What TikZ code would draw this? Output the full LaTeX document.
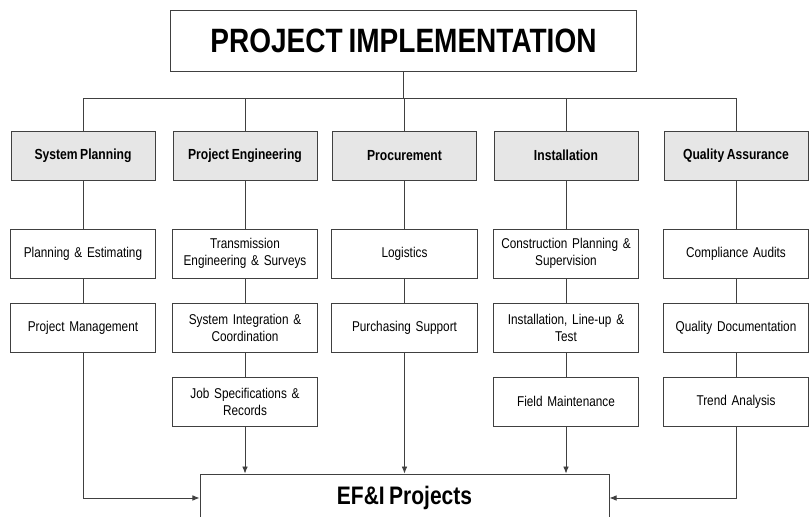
\documentclass[tikz,border=0pt]{standalone}
\usepackage{fontspec}
\setmainfont{Liberation Sans}[FakeStretch=0.83,WordSpace=0.75]
\usetikzlibrary{arrows.meta}
\definecolor{hdrgray}{HTML}{E6E6E6}
\definecolor{linegray}{HTML}{404040}
\tikzset{headbox/.style={draw=linegray,fill=hdrgray,rectangle,minimum width=3.6cm,minimum height=1.225cm,font=\bfseries\fontsize{10.4}{12}\selectfont}}
\tikzset{taskbox/.style={draw=linegray,fill=white,rectangle,minimum width=3.6cm,minimum height=1.225cm,text width=3.4cm,align=center,font=\fontsize{10.1}{12}\selectfont}}

\begin{document}
\begin{tikzpicture}[x=0.025cm,y=-0.025cm,line width=0.6pt]
          \clip (0,0) rectangle (812,517);

          % Titre
          \node [draw=linegray,rectangle,minimum width=11.65cm,minimum height=1.525cm,
                 font=\bfseries\fontsize{24}{28}\selectfont] (top) at (403.5,40.5) {PROJECT IMPLEMENTATION};
          \coordinate (bus) at (403.5,98);

          % Services
          \begin{scope}[every node/.style={headbox}]
              \node (H1) at (83,155.5) {System Planning};
              \node (H2) at (245,155.5) {Project Engineering};
              \node (H3) at (404.5,155.5) {Procurement};
              \node (H4) at (566,155.5) {Installation};
              \node (H5) at (736,155.5) {Quality Assurance};
          \end{scope}

          % Taches
          \begin{scope}[every node/.style={taskbox}]
              \node (A1) at (83,253.5) {Planning \& Estimating};
              \node (B1) at (83,327.5) {Project Management};
              \node (A2) at (245,253.5) {Transmission\\Engineering \& Surveys};
              \node (B2) at (245,327.5) {System Integration \&\\Coordination};
              \node (C2) at (245,401.5) {Job Specifications \&\\Records};
              \node (A3) at (404.5,253.5) {Logistics};
              \node (B3) at (404.5,327.5) {Purchasing Support};
              \node (A4) at (566,253.5) {Construction Planning \&\\Supervision};
              \node (B4) at (566,327.5) {Installation, Line-up \&\\Test};
              \node (C4) at (566,401.5) {Field Maintenance};
              \node (A5) at (736,253.5) {Compliance Audits};
              \node (B5) at (736,327.5) {Quality Documentation};
              \node (C5) at (736,401.5) {Trend Analysis};
          \end{scope}

          % Resultat
          \node [draw=linegray,fill=white,rectangle,minimum width=10.225cm,minimum height=1.2cm,
                 font=\bfseries\fontsize{18}{22}\selectfont] (EF) at (404.5,498) {EF\&I Projects};

          % Liens
          \begin{scope}[draw=linegray,every edge/.style={draw=linegray}]
              \draw (top.south) -- (bus);
              \draw (H1.north) |- (bus);
              \draw (H2.north) |- (bus);
              \draw (H3.north) |- (bus);
              \draw (H4.north) |- (bus);
              \draw (H5.north) |- (bus);
              \path (H1) edge (A1) (A1) edge (B1);
              \path (H2) edge (A2) (A2) edge (B2) (B2) edge (C2);
              \path (H3) edge (A3) (A3) edge (B3);
              \path (H4) edge (A4) (A4) edge (B4) (B4) edge (C4);
              \path (H5) edge (A5) (A5) edge (B5) (B5) edge (C5);
          \end{scope}

          % Fleches
          \begin{scope}[>={Latex[length=5pt,width=4pt]},draw=linegray]
              \draw [->] (C2) -- (C2 |- EF.north);
              \draw [->] (B3) -- (B3 |- EF.north);
              \draw [->] (C4) -- (C4 |- EF.north);
              \draw [->] (B1.south) |- (EF.west);
              \draw [->] (C5.south) |- (EF.east);
          \end{scope}
          \end{tikzpicture}
\end{document}
